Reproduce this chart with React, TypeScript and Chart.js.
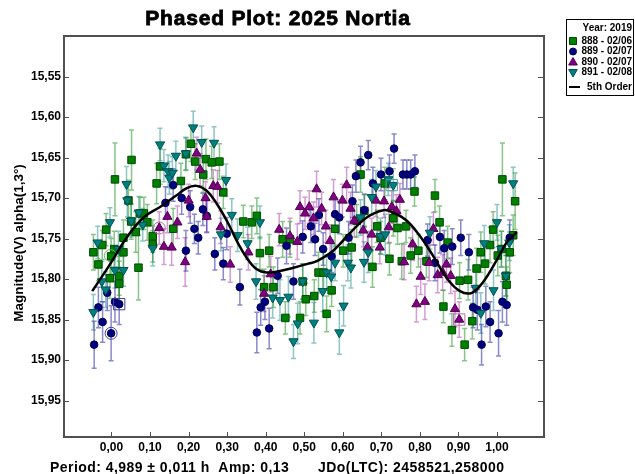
import React, { useEffect, useRef } from 'react';
import { Chart, registerables } from 'chart.js';

Chart.register(...registerables);

const FONT = "'Liberation Sans', Arial, sans-serif";

const xTicks = [0, 0.1, 0.2, 0.3, 0.4, 0.5, 0.6, 0.7, 0.8, 0.9, 1.0];
const yTicks = [15.55, 15.6, 15.65, 15.7, 15.75, 15.8, 15.85, 15.9, 15.95];

const chartTitle = 'Phased Plot: 2025 Nortia';
const yTitle = 'Magnitude(V) alpha(1,3°)';
const footLeft = 'Period: 4,989 ± 0,011 h  Amp: 0,13';
const footRight = 'JDo(LTC): 2458521,258000';
const legendTitle = 'Year: 2019';
const seriesNames = ['888 - 02/06', '889 - 02/07', '890 - 02/07', '891 - 02/08'];
const fitName = '5th Order';

// Series 888 (green squares)
const s888Phase = [-0.047, -0.034, -0.024, -0.014, 0.009, -0.001, 0.007, -0.004, 0.020, 0.020, 0.031, 0.031, 0.044, 0.052, 0.051, 0.063, 0.070, 0.074, 0.084, 0.093, 0.107, 0.107, 0.117, 0.126, 0.160, 0.180, 0.206, 0.193, 0.217, 0.245, 0.260, 0.280, 0.290, 0.238, 0.342, 0.364, 0.377, 0.385, 0.409, 0.396, 0.420, 0.444, 0.463, 0.451, 0.489, 0.496, 0.504, 0.526, 0.537, 0.550, 0.571, 0.558, 0.580, 0.601, 0.623, 0.636, 0.646, 0.656, 0.677, 0.689, 0.698, 0.709, 0.721, 0.731, 0.742, 0.753, 0.764, 0.776, 0.786, 0.796, 0.817, 0.839, 0.851, 0.861, 0.872, 0.883, 0.903, 0.916, 0.925, 0.936, 0.947, 0.958, 0.969, 0.982, 0.990, 1.002, 1.012, 1.014, 1.023, 1.025, 1.033, 1.047, 1.042];
const s888Mag = [15.767, 15.782, 15.758, 15.739, 15.677, 15.772, 15.763, 15.799, 15.806, 15.796, 15.749, 15.767, 15.703, 15.653, 15.729, 15.742, 15.786, 15.719, 15.719, 15.730, 15.747, 15.757, 15.682, 15.661, 15.738, 15.679, 15.633, 15.646, 15.655, 15.652, 15.656, 15.655, 15.693, 15.671, 15.729, 15.730, 15.722, 15.768, 15.765, 15.810, 15.810, 15.751, 15.751, 15.848, 15.848, 15.803, 15.825, 15.821, 15.792, 15.792, 15.814, 15.843, 15.738, 15.765, 15.761, 15.728, 15.671, 15.716, 15.785, 15.735, 15.749, 15.682, 15.775, 15.725, 15.737, 15.778, 15.735, 15.771, 15.692, 15.765, 15.778, 15.697, 15.730, 15.834, 15.755, 15.863, 15.802, 15.881, 15.801, 15.852, 15.787, 15.767, 15.781, 15.758, 15.739, 15.771, 15.763, 15.677, 15.796, 15.807, 15.767, 15.704, 15.746];
const s888Err = [0.022, 0.020, 0.018, 0.020, 0.045, 0.022, 0.022, 0.025, 0.028, 0.024, 0.022, 0.020, 0.025, 0.037, 0.022, 0.025, 0.040, 0.020, 0.020, 0.022, 0.020, 0.022, 0.025, 0.022, 0.025, 0.022, 0.022, 0.020, 0.022, 0.025, 0.020, 0.022, 0.020, 0.022, 0.020, 0.020, 0.022, 0.020, 0.020, 0.022, 0.025, 0.022, 0.022, 0.020, 0.020, 0.022, 0.020, 0.020, 0.025, 0.025, 0.020, 0.022, 0.022, 0.020, 0.022, 0.020, 0.022, 0.020, 0.025, 0.020, 0.020, 0.020, 0.020, 0.022, 0.020, 0.022, 0.020, 0.022, 0.018, 0.020, 0.020, 0.020, 0.020, 0.020, 0.020, 0.020, 0.022, 0.020, 0.025, 0.022, 0.025, 0.025, 0.025, 0.022, 0.022, 0.025, 0.022, 0.045, 0.025, 0.022, 0.025, 0.035, 0.025];

// Series 889 (navy circles)
const s889Phase = [-0.045, -0.034, -0.023, -0.011, -0.001, 0.009, 0.020, 0.140, 0.160, 0.182, 0.193, 0.204, 0.215, 0.225, 0.237, 0.247, 0.268, 0.290, 0.299, 0.333, 0.377, 0.387, 0.398, 0.409, 0.431, 0.454, 0.472, 0.496, 0.517, 0.528, 0.538, 0.549, 0.571, 0.580, 0.591, 0.615, 0.625, 0.634, 0.646, 0.656, 0.666, 0.678, 0.699, 0.721, 0.733, 0.756, 0.766, 0.776, 0.787, 0.820, 0.839, 0.852, 0.863, 0.884, 0.906, 0.927, 0.938, 0.949, 0.960, 0.971, 0.982, 1.004, 1.014, 1.025, 1.033];
const s889Mag = [15.881, 15.835, 15.853, 15.817, 15.867, 15.828, 15.831, 15.706, 15.684, 15.700, 15.765, 15.711, 15.738, 15.749, 15.714, 15.722, 15.769, 15.781, 15.744, 15.810, 15.866, 15.835, 15.828, 15.861, 15.796, 15.759, 15.803, 15.748, 15.735, 15.751, 15.721, 15.763, 15.772, 15.720, 15.724, 15.749, 15.704, 15.673, 15.656, 15.715, 15.647, 15.682, 15.671, 15.667, 15.639, 15.671, 15.671, 15.671, 15.667, 15.752, 15.780, 15.748, 15.762, 15.760, 15.749, 15.767, 15.835, 15.838, 15.881, 15.834, 15.853, 15.867, 15.828, 15.832, 15.749];
const s889Err = [0.029, 0.025, 0.025, 0.022, 0.034, 0.025, 0.025, 0.020, 0.020, 0.020, 0.025, 0.020, 0.018, 0.020, 0.020, 0.020, 0.020, 0.020, 0.020, 0.022, 0.025, 0.022, 0.022, 0.025, 0.022, 0.022, 0.022, 0.020, 0.020, 0.020, 0.020, 0.020, 0.020, 0.020, 0.020, 0.020, 0.020, 0.020, 0.020, 0.020, 0.018, 0.020, 0.020, 0.020, 0.018, 0.018, 0.018, 0.018, 0.020, 0.020, 0.022, 0.020, 0.022, 0.022, 0.022, 0.022, 0.025, 0.025, 0.025, 0.025, 0.025, 0.028, 0.025, 0.025, 0.022];

// Series 890 (purple triangles)
const s890Phase = [0.124, 0.136, 0.145, 0.156, 0.171, 0.191, 0.200, 0.221, 0.230, 0.244, 0.264, 0.275, 0.247, 0.283, 0.308, 0.355, 0.396, 0.413, 0.435, 0.463, 0.482, 0.489, 0.502, 0.513, 0.524, 0.532, 0.545, 0.556, 0.567, 0.576, 0.599, 0.610, 0.620, 0.630, 0.653, 0.664, 0.675, 0.686, 0.696, 0.707, 0.719, 0.727, 0.739, 0.748, 0.759, 0.781, 0.791, 0.802, 0.813, 0.824, 0.835, 0.846, 0.859, 0.869, 0.880, 0.891, 0.902];
const s890Mag = [15.737, 15.760, 15.723, 15.761, 15.730, 15.779, 15.703, 15.645, 15.665, 15.700, 15.685, 15.686, 15.723, 15.736, 15.782, 15.767, 15.818, 15.794, 15.739, 15.747, 15.754, 15.711, 15.719, 15.711, 15.725, 15.689, 15.713, 15.735, 15.753, 15.699, 15.703, 15.684, 15.713, 15.728, 15.740, 15.761, 15.745, 15.703, 15.761, 15.704, 15.736, 15.711, 15.716, 15.702, 15.779, 15.757, 15.831, 15.797, 15.828, 15.780, 15.738, 15.795, 15.792, 15.782, 15.796, 15.837, 15.850];
const s890Err = [0.020, 0.022, 0.020, 0.022, 0.020, 0.030, 0.020, 0.020, 0.020, 0.020, 0.020, 0.020, 0.020, 0.020, 0.022, 0.022, 0.022, 0.022, 0.020, 0.022, 0.022, 0.020, 0.020, 0.020, 0.020, 0.022, 0.020, 0.020, 0.020, 0.022, 0.020, 0.022, 0.020, 0.020, 0.020, 0.020, 0.020, 0.020, 0.020, 0.020, 0.020, 0.020, 0.020, 0.020, 0.022, 0.020, 0.022, 0.022, 0.022, 0.022, 0.020, 0.022, 0.022, 0.022, 0.022, 0.022, 0.022];

// Series 891 (teal down-triangles)
const s891Phase = [-0.047, -0.036, -0.025, -0.015, -0.004, 0.009, 0.018, 0.031, 0.039, 0.041, 0.051, 0.071, 0.081, 0.107, 0.126, 0.136, 0.147, 0.150, 0.158, 0.167, 0.193, 0.212, 0.234, 0.266, 0.297, 0.284, 0.312, 0.327, 0.353, 0.375, 0.385, 0.418, 0.437, 0.459, 0.472, 0.483, 0.496, 0.525, 0.548, 0.558, 0.570, 0.580, 0.591, 0.602, 0.613, 0.621, 0.646, 0.655, 0.666, 0.675, 0.686, 0.698, 0.710, 0.718, 0.731, 0.826, 0.945, 0.958, 0.967, 0.991, 1.000, 1.011, 1.032, 1.042, 1.023];
const s891Mag = [15.841, 15.755, 15.803, 15.813, 15.730, 15.789, 15.763, 15.789, 15.683, 15.703, 15.728, 15.718, 15.733, 15.762, 15.634, 15.660, 15.667, 15.675, 15.669, 15.648, 15.645, 15.613, 15.631, 15.632, 15.678, 15.745, 15.721, 15.746, 15.756, 15.803, 15.730, 15.823, 15.826, 15.822, 15.877, 15.855, 15.803, 15.854, 15.815, 15.792, 15.797, 15.780, 15.866, 15.833, 15.780, 15.786, 15.724, 15.779, 15.767, 15.699, 15.686, 15.747, 15.745, 15.677, 15.684, 15.743, 15.811, 15.842, 15.756, 15.814, 15.730, 15.763, 15.755, 15.682, 15.796];
const s891Err = [0.022, 0.020, 0.025, 0.022, 0.018, 0.022, 0.022, 0.020, 0.022, 0.020, 0.020, 0.020, 0.020, 0.022, 0.020, 0.020, 0.020, 0.020, 0.020, 0.018, 0.020, 0.020, 0.020, 0.020, 0.020, 0.020, 0.020, 0.020, 0.020, 0.022, 0.020, 0.025, 0.025, 0.025, 0.021, 0.025, 0.022, 0.025, 0.025, 0.022, 0.022, 0.022, 0.027, 0.025, 0.022, 0.025, 0.022, 0.025, 0.025, 0.022, 0.020, 0.022, 0.025, 0.020, 0.020, 0.020, 0.025, 0.025, 0.022, 0.025, 0.022, 0.022, 0.022, 0.020, 0.025];

// 5th order fit curve
const fitPhase = [-0.05, -0.004, 0.039, 0.083, 0.126, 0.168, 0.194, 0.221, 0.247, 0.273, 0.299, 0.325, 0.351, 0.377, 0.403, 0.437, 0.472, 0.511, 0.532, 0.575, 0.619, 0.662, 0.705, 0.731, 0.766, 0.800, 0.835, 0.870, 0.904, 0.935, 0.965, 1.000, 1.025, 1.051];
const fitMag = [15.815, 15.782, 15.749, 15.724, 15.711, 15.697, 15.688, 15.685, 15.691, 15.707, 15.728, 15.753, 15.774, 15.788, 15.792, 15.790, 15.786, 15.781, 15.778, 15.765, 15.743, 15.724, 15.715, 15.718, 15.728, 15.747, 15.772, 15.799, 15.815, 15.817, 15.803, 15.776, 15.755, 15.742];

// Highlighted (ringed) observations
const ringPhase = [-0.001, -0.003, 0.124, 0.020, 0.727, 0.902];
const ringMag = [15.867, 15.771, 15.737, 15.831, 15.684, 15.850];
const ringStyle = ['circle', 'circle', 'circle', 'rect', 'rect', 'rect'];
const ringColor = ['#4040a0', '#70b070', '#b070b0', '#4040a0', '#50a0a0', '#b070b0'];

const COLORS = {
  g: { fill: '#008000', edge: '#004a00', bar: 'rgba(40,150,40,0.55)' },
  n: { fill: '#000080', edge: '#000050', bar: 'rgba(40,40,160,0.55)' },
  p: { fill: '#800080', edge: '#500050', bar: 'rgba(170,60,170,0.5)' },
  t: { fill: '#008080', edge: '#005050', bar: 'rgba(30,140,140,0.5)' },
};

const toPts = (xs: number[], ys: number[]) => xs.map((x, i) => ({ x, y: ys[i] }));
const fmt = (v: number) => Number(v).toFixed(2).replace('.', ',');

const errorBarPlugin = {
  id: 'errorBars',
  beforeDatasetsDraw(chart: any) {
    const { ctx, chartArea, scales } = chart;
    const xs = scales.x;
    const ys = scales.y;
    ctx.save();
    ctx.beginPath();
    ctx.rect(chartArea.left, chartArea.top, chartArea.right - chartArea.left, chartArea.bottom - chartArea.top);
    ctx.clip();
    chart.data.datasets.forEach((ds: any) => {
      if (!ds.errors) return;
      ctx.strokeStyle = ds.barColor;
      ctx.lineWidth = 1.5;
      ds.data.forEach((pt: any, i: number) => {
        const e = ds.errors[i];
        const x = xs.getPixelForValue(pt.x);
        const y1 = ys.getPixelForValue(pt.y - e);
        const y2 = ys.getPixelForValue(pt.y + e);
        ctx.beginPath();
        ctx.moveTo(x, y1);
        ctx.lineTo(x, y2);
        ctx.moveTo(x - 2.5, y1);
        ctx.lineTo(x + 2.5, y1);
        ctx.moveTo(x - 2.5, y2);
        ctx.lineTo(x + 2.5, y2);
        ctx.stroke();
      });
    });
    ctx.restore();
  },
};

function drawMarker(ctx: CanvasRenderingContext2D, kind: string, x: number, y: number, fill: string, edge: string) {
  ctx.fillStyle = fill;
  ctx.strokeStyle = edge;
  ctx.lineWidth = 1;
  ctx.beginPath();
  if (kind === 'rect') {
    ctx.rect(x - 3.5, y - 3.5, 7, 7);
  } else if (kind === 'circle') {
    ctx.arc(x, y, 3.5, 0, Math.PI * 2);
  } else if (kind === 'up') {
    ctx.moveTo(x, y - 4.5);
    ctx.lineTo(x + 4.3, y + 3);
    ctx.lineTo(x - 4.3, y + 3);
    ctx.closePath();
  } else {
    ctx.moveTo(x, y + 4.5);
    ctx.lineTo(x + 4.3, y - 3);
    ctx.lineTo(x - 4.3, y - 3);
    ctx.closePath();
  }
  ctx.fill();
  ctx.stroke();
}

const framePlugin = {
  id: 'frame',
  afterDraw(chart: any) {
    const { ctx, chartArea, scales } = chart;
    const { left, right, top, bottom } = chartArea;
    ctx.save();
    // inward tick marks
    ctx.strokeStyle = '#505050';
    ctx.lineWidth = 1;
    yTicks.forEach((v) => {
      const y = Math.round(scales.y.getPixelForValue(v)) + 0.5;
      ctx.beginPath();
      ctx.moveTo(left, y);
      ctx.lineTo(left + 5, y);
      ctx.moveTo(right, y);
      ctx.lineTo(right - 6, y);
      ctx.stroke();
    });
    xTicks.forEach((v) => {
      const x = Math.round(scales.x.getPixelForValue(v)) + 0.5;
      ctx.beginPath();
      ctx.moveTo(x, bottom);
      ctx.lineTo(x, bottom - 5);
      ctx.stroke();
    });
    // border
    ctx.strokeStyle = '#505050';
    ctx.lineWidth = 2;
    ctx.strokeRect(left, top, right - left, bottom - top);

    ctx.fillStyle = '#000';
    ctx.strokeStyle = '#000';
    // title
    ctx.font = `bold 21px ${FONT}`;
    (ctx as any).letterSpacing = '0.8px';
    ctx.textAlign = 'center';
    ctx.textBaseline = 'alphabetic';
    ctx.lineWidth = 0.8;
    ctx.fillText(chartTitle, 278, 25);
    ctx.strokeText(chartTitle, 278, 25);
    // footer
    ctx.font = `bold 14px ${FONT}`;
    (ctx as any).letterSpacing = '0.45px';
    ctx.textAlign = 'left';
    ctx.fillText(footLeft, 50, 472);
    ctx.fillText(footRight, 318, 472);
    (ctx as any).letterSpacing = '0px';
    // y axis title
    ctx.save();
    ctx.translate(19, 243);
    ctx.rotate(-Math.PI / 2);
    ctx.font = `bold 13.5px ${FONT}`;
    ctx.textAlign = 'center';
    ctx.textBaseline = 'middle';
    ctx.fillText(yTitle, 0, 0);
    ctx.restore();

    // legend
    ctx.strokeStyle = '#000';
    ctx.lineWidth = 1;
    ctx.strokeRect(566.5, 19.5, 67, 76);
    ctx.font = `bold 10px ${FONT}`;
    ctx.textAlign = 'right';
    ctx.textBaseline = 'middle';
    ctx.fillText(legendTitle, 632, 28);
    const rows = [41, 51.5, 62, 72.5];
    const kinds = ['rect', 'circle', 'up', 'down'];
    const cols = [COLORS.g, COLORS.n, COLORS.p, COLORS.t];
    rows.forEach((y, i) => {
      drawMarker(ctx, kinds[i], 573, y, cols[i].fill, cols[i].edge);
      ctx.fillStyle = '#000';
      ctx.fillText(seriesNames[i], 632, y);
    });
    ctx.strokeStyle = '#000';
    ctx.lineWidth = 2;
    ctx.beginPath();
    ctx.moveTo(569, 87);
    ctx.lineTo(580, 87);
    ctx.stroke();
    ctx.fillText(fitName, 632, 87);
    ctx.restore();
  },
};

export default function App() {
  const ref = useRef<HTMLCanvasElement | null>(null);
  useEffect(() => {
    if (!ref.current) return;
    const chart = new Chart(ref.current, {
      type: 'scatter',
      data: {
        datasets: [
          {
            label: fitName,
            data: toPts(fitPhase, fitMag),
            showLine: true,
            borderColor: '#000',
            borderWidth: 2.5,
            pointRadius: 0,
            tension: 0.4,
            order: 0,
          } as any,
          {
            label: 'rings',
            data: toPts(ringPhase, ringMag),
            pointStyle: ringStyle as any,
            pointRadius: ringStyle.map((s) => (s === 'rect' ? 8 : 6)),
            backgroundColor: 'rgba(0,0,0,0)',
            borderColor: ringColor,
            borderWidth: 1,
            order: 1,
          } as any,
          {
            label: seriesNames[3],
            data: toPts(s891Phase, s891Mag),
            errors: s891Err,
            barColor: COLORS.t.bar,
            pointStyle: 'triangle',
            rotation: 180,
            pointRadius: 5.3,
            backgroundColor: COLORS.t.fill,
            borderColor: COLORS.t.edge,
            borderWidth: 1,
            order: 2,
          } as any,
          {
            label: seriesNames[2],
            data: toPts(s890Phase, s890Mag),
            errors: s890Err,
            barColor: COLORS.p.bar,
            pointStyle: 'triangle',
            pointRadius: 5.3,
            backgroundColor: COLORS.p.fill,
            borderColor: COLORS.p.edge,
            borderWidth: 1,
            order: 3,
          } as any,
          {
            label: seriesNames[1],
            data: toPts(s889Phase, s889Mag),
            errors: s889Err,
            barColor: COLORS.n.bar,
            pointStyle: 'circle',
            pointRadius: 3.8,
            backgroundColor: COLORS.n.fill,
            borderColor: COLORS.n.edge,
            borderWidth: 1,
            order: 4,
          } as any,
          {
            label: seriesNames[0],
            data: toPts(s888Phase, s888Mag),
            errors: s888Err,
            barColor: COLORS.g.bar,
            pointStyle: 'rect',
            pointRadius: 5.3,
            backgroundColor: COLORS.g.fill,
            borderColor: COLORS.g.edge,
            borderWidth: 1,
            order: 5,
          } as any,
        ],
      },
      options: {
        responsive: false,
        animation: false,
        events: [],
        layout: { padding: { left: 0, right: 91, top: 36, bottom: 0 } },
        plugins: {
          legend: { display: false },
          title: { display: false },
          tooltip: { enabled: false },
        },
        scales: {
          x: {
            type: 'linear',
            min: -0.1232,
            max: 1.1219,
            grid: { display: false, drawTicks: false },
            border: { display: false },
            afterBuildTicks: (axis: any) => {
              axis.ticks = xTicks.map((v) => ({ value: v }));
            },
            afterFit: (axis: any) => {
              axis.height = 37;
            },
            ticks: {
              autoSkip: false,
              maxRotation: 0,
              padding: 3,
              color: '#000',
              font: { family: FONT, size: 12, weight: 'bold' },
              callback: (v: any) => fmt(v),
            },
          },
          y: {
            type: 'linear',
            reverse: true,
            min: 15.5,
            max: 15.995,
            grid: { display: false, drawTicks: false },
            border: { display: false },
            afterBuildTicks: (axis: any) => {
              axis.ticks = yTicks.map((v) => ({ value: v }));
            },
            afterFit: (axis: any) => {
              axis.width = 64;
            },
            ticks: {
              autoSkip: false,
              padding: 3,
              color: '#000',
              font: { family: FONT, size: 12, weight: 'bold' },
              callback: (v: any) => fmt(v),
            },
          },
        },
      } as any,
      plugins: [errorBarPlugin, framePlugin],
    });
    return () => chart.destroy();
  }, []);

  return (
    <div style={{ position: 'fixed', left: 0, top: 0, width: 635, height: 474, background: '#fff' }}>
      <canvas ref={ref} width={635} height={474} />
    </div>
  );
}
